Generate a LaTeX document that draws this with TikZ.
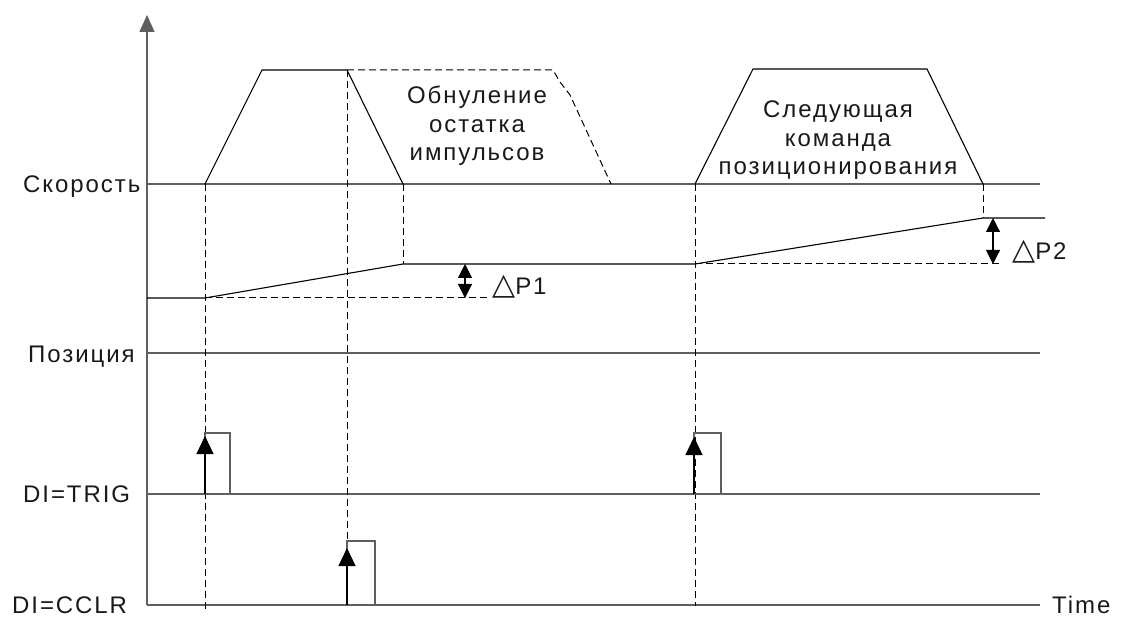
\documentclass[tikz,border=0pt]{standalone}
\usepackage{fontspec}
\setmainfont[LetterSpace=8]{Liberation Sans}
\newfontfamily\symfont{DejaVu Sans}
\usetikzlibrary{arrows.meta}
\definecolor{refgray}{RGB}{95,95,95}
\definecolor{txt}{RGB}{25,25,25}
\begin{document}
\begin{tikzpicture}[x=1pt,y=-1pt,
  refline/.style={draw=refgray,line width=1.4pt},
  sig/.style={draw=black,line width=1.1pt},
  guide/.style={draw=black,line width=1pt,dash pattern=on 7pt off 4pt},
  pulsebox/.style={draw=refgray,line width=1.1pt},
  uparrow/.style={draw=black,line width=1.1pt,-{Triangle[length=18pt,width=17pt]}},
  dimarrow/.style={draw=black,line width=1.1pt,{Triangle[length=14pt,width=14pt]}-{Triangle[length=14pt,width=14pt]}},
  lbl/.style={inner sep=0pt,anchor=base west,text=txt,font=\fontsize{24}{28.5}\selectfont},
  block/.style={inner sep=0pt,align=center,text=txt,font=\fontsize{24}{28.5}\selectfont}]
\useasboundingbox (0,0) rectangle (1121,617);
% axis
\coordinate (O) at (147,605);
\coordinate (Atop) at (147,15);
\draw[refline,-{Triangle[length=17pt,width=15pt]}] (O) -- (Atop);
% reference lines
\coordinate (sL) at (147,184); \coordinate (sR) at (1040,184);
\coordinate (pL) at (147,353); \coordinate (pR) at (1040,353);
\coordinate (tL) at (147,494); \coordinate (tR) at (1040,494);
\coordinate (cR) at (1040,605);
\draw[refline] (sL) -- (sR);
\draw[refline] (pL) -- (pR);
\draw[refline] (tL) -- (tR);
\draw[refline] (O) -- (cR);
% speed profile 1
\coordinate (a0) at (205,184); \coordinate (a1) at (262,70);
\coordinate (a2) at (347,70); \coordinate (a3) at (403,184);
\draw[sig] (a0) -- (a1) -- (a2) -- (a3);
\coordinate (d1) at (553,70); \coordinate (d2) at (560,82);
\coordinate (d3) at (570,95); \coordinate (d4) at (611,184);
\draw[guide] (a2) -- (d1) -- (d2) -- (d3) -- (d4);
% speed profile 2
\coordinate (b0) at (695,184); \coordinate (b1) at (753,69);
\coordinate (b2) at (927,69); \coordinate (b3) at (983,184);
\draw[sig] (b0) -- (b1) -- (b2) -- (b3);
% position curve
\coordinate (q0) at (147,298); \coordinate (q1) at (205,298);
\coordinate (q2) at (403,264); \coordinate (q3) at (695,264);
\coordinate (q4) at (983,218); \coordinate (q5) at (1045,218);
\draw[sig] (q0) -- (q1) -- (q2) -- (q3) -- (q4) -- (q5);
\coordinate (e1) at (488,298); \coordinate (e2) at (1000,264);
\draw[guide] (q1) -- (e1);
\draw[guide] (q3) -- (e2);
% vertical guides
\coordinate (v1) at (205,612); \coordinate (v2) at (347,541);
\coordinate (v3) at (695,606);
\draw[guide] (a0) -- (v1);
\draw[guide] (a2) -- (v2);
\draw[guide] (a3) -- (q2);
\draw[guide] (b0) -- (v3);
\draw[guide] (b3) -- (q4);
% delta arrows
\coordinate (m1t) at (465,264); \coordinate (m1b) at (465,298);
\coordinate (m2t) at (993,218); \coordinate (m2b) at (993,264);
\draw[dimarrow] (m1t) -- (m1b);
\draw[dimarrow] (m2t) -- (m2b);
\node[lbl] (dp1) at (492,295) {{\symfont\fontsize{30}{30}\selectfont △}P1};
\node[lbl] (dp2) at (1012,260) {{\symfont\fontsize{30}{30}\selectfont △}P2};
% pulses
\draw[pulsebox] (205,433) rectangle (230,494);
\coordinate (r1b) at (205,494); \coordinate (r1t) at (205,436);
\draw[uparrow] (r1b) -- (r1t);
\draw[pulsebox] (347,541) rectangle (375,605);
\coordinate (r2b) at (347,605); \coordinate (r2t) at (347,548);
\draw[uparrow] (r2b) -- (r2t);
\draw[pulsebox] (694,433) rectangle (721,494);
\coordinate (r3b) at (694,494); \coordinate (r3t) at (694,437);
\draw[uparrow] (r3b) -- (r3t);
% labels
\node[lbl] (ls) at (23,192.6) {Скорость};
\node[lbl] (lp) at (28,362) {Позиция};
\node[lbl] (lt) at (23,502.6) {DI=TRIG};
\node[lbl] (lc) at (12,613.6) {DI=CCLR};
\node[lbl] (ltime) at (1052,613) {Time};
\node[block] (txt1) at (477,125.7) {Обнуление\\остатка\\импульсов};
\node[block] (txt2) at (838,140.3) {Следующая\\команда\\позиционирования};
\end{tikzpicture}
\end{document}
